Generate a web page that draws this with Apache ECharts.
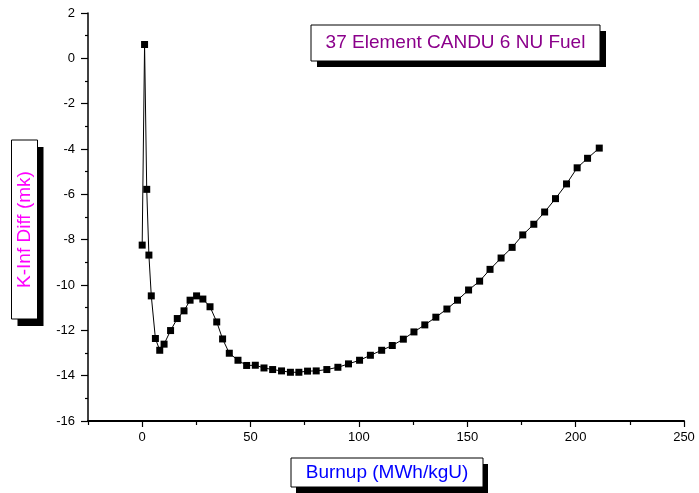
<!DOCTYPE html>
<html>
<head>
<meta charset="utf-8">
<script src="https://cdn.jsdelivr.net/npm/echarts@6/dist/echarts.min.js"></script>
<style>
html,body{margin:0;padding:0;background:#fff;}
#chart{width:699px;height:493px;}
</style>
</head>
<body>
<div id="chart"></div>
<script>
// Burnup (MWh/kgU)
const burnup = [0, 1.1, 2.1, 3.1, 4.2, 6.1, 8.1, 10.1, 13.1, 16.2, 19.3, 22.1, 25.1, 28.0, 31.3, 34.4, 37.1, 40.2, 44.2, 48.2,
  52.2, 56.2, 60.2, 64.3, 68.4, 72.3, 76.3, 80.3, 85.2, 90.3, 95.2, 100.3, 105.3, 110.5, 115.4, 120.5, 125.4, 130.4, 135.5, 140.6,
  145.5, 150.6, 155.7, 160.5, 165.6, 170.7, 175.6, 180.7, 185.7, 190.7, 195.8, 200.7, 205.5, 210.9];
// K-Inf Diff (mk)
const kinfDiff = [-8.24, 0.61, -5.78, -8.68, -10.48, -12.36, -12.88, -12.61, -12.01, -11.48, -11.14, -10.67, -10.48, -10.62, -10.96, -11.63, -12.38, -13.01, -13.32, -13.55,
  -13.54, -13.66, -13.73, -13.79, -13.85, -13.85, -13.80, -13.79, -13.73, -13.63, -13.48, -13.32, -13.10, -12.88, -12.67, -12.39, -12.07, -11.76, -11.42, -11.06,
  -10.67, -10.22, -9.83, -9.31, -8.81, -8.34, -7.79, -7.32, -6.78, -6.19, -5.54, -4.83, -4.41, -3.96];
const xMajorTicks = [0, 50, 100, 150, 200, 250];
const xMinorTicks = [-25, 25, 75, 125, 175, 225];
const titleText = '37 Element CANDU 6 NU Fuel';
const xName = 'Burnup (MWh/kgU)';
const yName = 'K-Inf Diff (mk)';

const FONT = 'Liberation Sans, Arial, sans-serif';
const chart = echarts.init(document.getElementById('chart'), null, {renderer: 'canvas'});

function box(x, y, w, h, sx, sy, text, color, rotate) {
  const els = [
    {type: 'rect', shape: {x: x + sx, y: y + sy, width: w, height: h}, style: {fill: '#000'}, z: 10},
    {type: 'rect', shape: {x: x, y: y, width: w, height: h}, style: {fill: '#fff', stroke: '#000', lineWidth: 1}, z: 11}
  ];
  els.push({
    type: 'text', x: x + w / 2, y: y + h / 2, rotation: rotate ? Math.PI / 2 : 0, z: 12,
    style: {text: text, fill: color, font: '19px ' + FONT, align: 'center', verticalAlign: 'middle'}
  });
  return els;
}

const option = {
  backgroundColor: '#fff',
  animation: false,
  grid: {left: 88, right: 15, top: 13, bottom: 72, containLabel: false},
  xAxis: [{
    type: 'value', min: -25, max: 250, interval: 25,
    splitLine: {show: false},
    axisLine: {onZero: false, lineStyle: {color: '#000', width: 2}},
    axisTick: {show: true, length: 6, lineStyle: {color: '#000', width: 1.2}, customValues: xMajorTicks},
    axisLabel: {color: '#000', fontSize: 13, fontFamily: FONT, margin: 10, customValues: xMajorTicks}
  }, {
    type: 'value', min: -25, max: 250, interval: 25, position: 'bottom',
    splitLine: {show: false},
    axisLine: {show: false, onZero: false},
    axisTick: {show: true, length: 4, lineStyle: {color: '#000', width: 1.2}, customValues: xMinorTicks},
    axisLabel: {show: false}
  }],
  yAxis: {
    type: 'value', min: -16, max: 2, interval: 2,
    splitLine: {show: false},
    axisLine: {onZero: false, lineStyle: {color: '#000', width: 1.5}},
    axisTick: {show: true, length: 7, lineStyle: {color: '#000', width: 1.2}},
    minorTick: {show: true, splitNumber: 2, length: 3, lineStyle: {color: '#000', width: 1.2}},
    axisLabel: {color: '#000', fontSize: 13, fontFamily: FONT, margin: 13}
  },
  series: [{
    type: 'line',
    xAxisIndex: 0,
    data: burnup.map((b, i) => [b, kinfDiff[i]]),
    symbol: 'rect', symbolSize: 7,
    itemStyle: {color: '#000'},
    lineStyle: {color: '#000', width: 1},
    z: 5
  }],
  graphic: [].concat(
    box(311, 25, 289, 36, 6, 6, titleText, '#8B008B', false),
    box(291, 458, 192, 29, 5, 6, xName, '#0000FF', false),
    box(11.5, 140, 26, 179, 6, 7, yName, '#FF00FF', true)
  )
};
chart.setOption(option);
</script>
</body>
</html>
